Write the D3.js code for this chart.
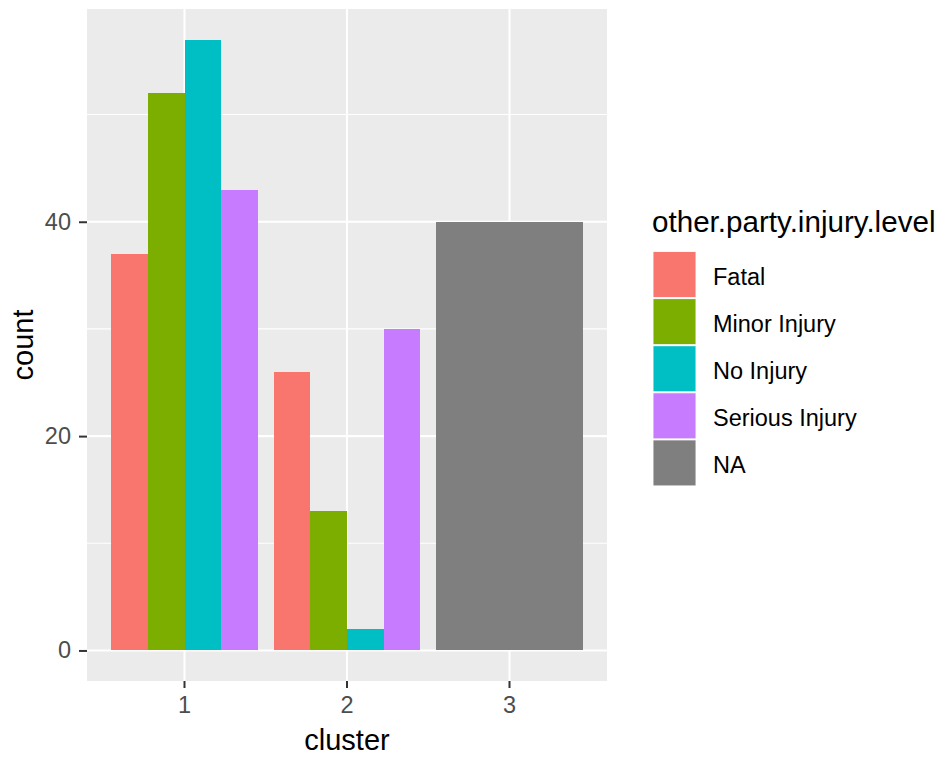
<!DOCTYPE html>
<html>
<head>
<meta charset="utf-8">
<script src="https://cdn.jsdelivr.net/npm/d3@7"></script>
<style>
  html, body { margin: 0; padding: 0; background: #ffffff; }
  svg { display: block; font-family: "Liberation Sans", Arial, sans-serif; }
</style>
</head>
<body>
<svg id="chart" width="940" height="758"></svg>
<script>
// Counts per cluster for each injury level (null = level absent in that cluster)
const clusters = ["1", "2", "3"];
const levels = ["Fatal", "Minor Injury", "No Injury", "Serious Injury", "NA"];
const fatal = [37, 26, null];
const minorInjury = [52, 13, null];
const noInjury = [57, 2, null];
const seriousInjury = [43, 30, null];
const naLevel = [null, null, 40];
const levelColors = ["#F8766D", "#7CAE00", "#00BFC4", "#C77CFF", "#7F7F7F"];
const yTicks = [0, 20, 40];
const yMinorTicks = [10, 30, 50];

const seriesByLevel = [fatal, minorInjury, noInjury, seriousInjury, naLevel];

// Long-format rows, one per (cluster, level) that exists
const rows = [];
clusters.forEach((c, ci) => {
  levels.forEach((lv, li) => {
    const v = seriesByLevel[li][ci];
    if (v !== null) rows.push({ cluster: c, level: lv, count: v });
  });
});

const svg = d3.select("#chart");
const panel = { left: 87, right: 607, top: 9, bottom: 681 };

const maxCount = d3.max(rows, d => d.count);
const y = d3.scaleLinear()
  .domain([-0.05 * maxCount, maxCount * 1.05])
  .range([panel.bottom, panel.top]);

const x = d3.scaleBand()
  .domain(clusters)
  .range([panel.left, panel.right])
  .paddingInner(0.1)
  .paddingOuter(0.15);

const color = d3.scaleOrdinal().domain(levels).range(levelColors);

// Panel background
svg.append("rect")
  .attr("x", panel.left).attr("y", panel.top)
  .attr("width", panel.right - panel.left)
  .attr("height", panel.bottom - panel.top)
  .attr("fill", "#EBEBEB");

// Grid lines
const grid = svg.append("g");
grid.selectAll(".minor").data(yMinorTicks).join("line")
  .attr("x1", panel.left).attr("x2", panel.right)
  .attr("y1", d => y(d)).attr("y2", d => y(d))
  .attr("stroke", "#ffffff").attr("stroke-width", 1.1);
grid.selectAll(".majorY").data(yTicks).join("line")
  .attr("x1", panel.left).attr("x2", panel.right)
  .attr("y1", d => y(d)).attr("y2", d => y(d))
  .attr("stroke", "#ffffff").attr("stroke-width", 2.1);
grid.selectAll(".majorX").data(clusters).join("line")
  .attr("x1", d => x(d) + x.bandwidth() / 2).attr("x2", d => x(d) + x.bandwidth() / 2)
  .attr("y1", panel.top).attr("y2", panel.bottom)
  .attr("stroke", "#ffffff").attr("stroke-width", 2.1);

// Dodged bars: each cluster splits its band among the levels it contains
const bars = svg.append("g");
clusters.forEach(c => {
  const sub = rows.filter(r => r.cluster === c);
  const inner = d3.scaleBand()
    .domain(sub.map(r => r.level))
    .range([x(c), x(c) + x.bandwidth()]);
  bars.selectAll(null).data(sub).join("rect")
    .attr("x", d => inner(d.level))
    .attr("width", inner.bandwidth())
    .attr("y", d => y(d.count))
    .attr("height", d => y(0) - y(d.count))
    .attr("fill", d => color(d.level))
    .attr("shape-rendering", "crispEdges");
});

// Axes
const yAxis = svg.append("g")
  .attr("transform", `translate(${panel.left},0)`)
  .call(d3.axisLeft(y).tickValues(yTicks).tickSize(8).tickPadding(8));
const xAxis = svg.append("g")
  .attr("transform", `translate(0,${panel.bottom})`)
  .call(d3.axisBottom(x).tickSize(7).tickPadding(8));
[yAxis, xAxis].forEach(ax => {
  ax.select(".domain").remove();
  ax.selectAll(".tick line").attr("stroke", "#333333").attr("stroke-width", 2);
  ax.selectAll(".tick text")
    .attr("fill", "#4D4D4D")
    .style("font-size", "23.5px")
    .style("font-family", "'Liberation Sans', Arial, sans-serif");
});

// Axis titles
svg.append("text")
  .attr("x", (panel.left + panel.right) / 2).attr("y", 750)
  .attr("text-anchor", "middle")
  .style("font-size", "29px")
  .text("cluster");
svg.append("text")
  .attr("transform", `translate(33,${(panel.top + panel.bottom) / 2}) rotate(-90)`)
  .attr("text-anchor", "middle")
  .style("font-size", "29px")
  .text("count");

// Legend
const legend = svg.append("g").attr("transform", "translate(653,0)");
legend.append("text")
  .attr("x", -1).attr("y", 232)
  .style("font-size", "29.6px")
  .text("other.party.injury.level");
const keyStep = 47.1;
const keys = legend.selectAll(".key").data(levels).join("g")
  .attr("transform", (d, i) => `translate(0,${251.5 + i * keyStep})`);
keys.append("rect")
  .attr("width", 43).attr("height", 46)
  .attr("fill", "#F2F2F2");
keys.append("rect")
  .attr("x", 0.5).attr("y", 0.5)
  .attr("width", 42).attr("height", 45)
  .attr("fill", d => color(d));
keys.append("text")
  .attr("x", 60).attr("y", 33.5)
  .style("font-size", "23.5px")
  .text(d => d);
</script>
</body>
</html>
